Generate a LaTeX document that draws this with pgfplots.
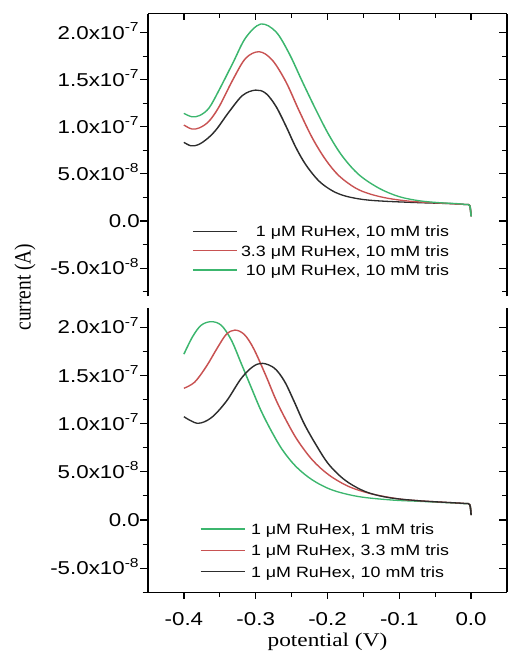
\documentclass[border=0pt]{standalone}
\usepackage{fontspec}
\setmainfont{Liberation Sans}
\newfontfamily\seriffont{Liberation Serif}
\usepackage{graphicx}
\usepackage{pgfplots}
\pgfplotsset{compat=1.18}

\definecolor{cvblack}{RGB}{45,45,45}
\definecolor{cvred}{RGB}{200,82,82}
\definecolor{cvgreen}{RGB}{60,182,110}

\newcommand\tickfont{\fontsize{9.3bp}{11bp}\selectfont}
\newcommand\legfont{\fontsize{7.45bp}{9bp}\selectfont}
\newcommand\labfont{\seriffont\fontsize{9.7bp}{11bp}\selectfont}

\pgfplotsset{
    panel/.style={
        scale only axis,
        width=149.58bp,
        xmin=-0.45, xmax=0.05,
        xtick={-0.4,-0.3,-0.2,-0.1,0},
        minor xtick={-0.35,-0.25,-0.15,-0.05},
        ytick={-5e-8,0,5e-8,1e-7,1.5e-7,2e-7},
        minor ytick={-7.5e-8,-2.5e-8,2.5e-8,7.5e-8,1.25e-7,1.75e-7},
        major tick length=3.2bp,
        minor tick length=2.2bp,
        axis line style={line width=0.55bp,-,black},
        major tick style={line width=0.55bp,black},
        minor tick style={line width=0.55bp,black},
        tick label style={font=\tickfont},
        yticklabel style={anchor=east,inner sep=0pt,text height=6.66bp,text depth=0pt},
        scaled y ticks=false,
    },
    ylabs/.style={
        yticklabels={-5.0x10\textsuperscript{-8},0.0,5.0x10\textsuperscript{-8},1.0x10\textsuperscript{-7},1.5x10\textsuperscript{-7},2.0x10\textsuperscript{-7}},
    },
    curve/.style={line width=0.65bp,smooth,tension=0.55},
    legend image code/.code={\draw[#1,line width=0.6bp] (0bp,0bp) -- (18.3bp,0bp);},
}

\begin{document}
\scalebox{1.2}[1]{%
\begin{tikzpicture}

% ---------- top panel: RuHex concentration ----------
\begin{axis}[panel, ylabs,
    at={(61.667bp,177.8bp)}, anchor=south west, height=141.32bp,
    ymin=-8e-8, ymax=2.2e-7,
    axis x line*=top, axis y line*=left,
    xtick align=inside, ytick align=outside,
    xticklabels={},
    legend cell align=right,
    legend style={draw=none,fill=none,inner sep=0pt,outer sep=0pt,
        at={(0.8386,0.2484)},anchor=north east,
        row sep=4.27bp,column sep=1.5bp,font=\legfont,
        nodes={inner sep=0pt,text height=5.33bp,text depth=0pt}},
]
\addplot[curve,cvblack] coordinates {
    (-0.400,8.35e-8) (-0.390,7.98e-8) (-0.380,8.1e-8) (-0.368,8.7e-8)
    (-0.355,9.7e-8) (-0.337,1.16e-7) (-0.318,1.335e-7) (-0.300,1.39e-7)
    (-0.286,1.356e-7) (-0.272,1.22e-7) (-0.258,1.01e-7) (-0.244,7.8e-8)
    (-0.230,5.95e-8) (-0.212,4.25e-8) (-0.193,3.2e-8) (-0.175,2.65e-8)
    (-0.150,2.28e-8) (-0.120,2.1e-8) (-0.073,1.95e-8) (-0.030,1.85e-8)
    (-0.008,1.75e-8) (-0.002,1.65e-8) (0.000,0.5e-8)
};
\addlegendentry{1 μM RuHex, 10 mM tris}
\addplot[curve,cvred] coordinates {
    (-0.400,1.019e-7) (-0.389,9.77e-8) (-0.378,9.9e-8) (-0.365,1.06e-7)
    (-0.351,1.213e-7) (-0.332,1.497e-7) (-0.314,1.727e-7) (-0.295,1.797e-7)
    (-0.277,1.709e-7) (-0.258,1.479e-7) (-0.240,1.178e-7) (-0.221,8.8e-8)
    (-0.2025,6.5e-8) (-0.184,4.8e-8) (-0.161,3.5e-8) (-0.140,2.85e-8)
    (-0.115,2.4e-8) (-0.085,2.1e-8) (-0.055,1.95e-8) (-0.030,1.85e-8)
    (-0.008,1.75e-8) (-0.002,1.65e-8) (0.000,0.5e-8)
};
\addlegendentry{3.3 μM RuHex, 10 mM tris}
\addplot[curve,cvgreen] coordinates {
    (-0.400,1.143e-7) (-0.389,1.107e-7) (-0.378,1.12e-7) (-0.365,1.2e-7)
    (-0.351,1.39e-7) (-0.332,1.674e-7) (-0.314,1.945e-7) (-0.293,2.091e-7)
    (-0.272,2.01e-7) (-0.2535,1.78e-7) (-0.235,1.479e-7) (-0.216,1.178e-7)
    (-0.198,9.13e-8) (-0.179,6.85e-8) (-0.156,4.9e-8) (-0.128,3.47e-8)
    (-0.1007,2.6e-8) (-0.073,2.16e-8) (-0.045,1.95e-8) (-0.020,1.85e-8)
    (-0.008,1.75e-8) (-0.002,1.65e-8) (0.000,0.5e-8)
};
\addlegendentry{10 μM RuHex, 10 mM tris}
\end{axis}

% right-hand axis of the top panel, ticks pointing in
\begin{axis}[panel,
    at={(61.667bp,177.8bp)}, anchor=south west, height=141.32bp,
    ymin=-8e-8, ymax=2.2e-7,
    axis x line=none, axis y line*=right,
    ytick align=inside, yticklabels={},
]
\end{axis}

% ---------- bottom panel: tris concentration ----------
\begin{axis}[panel, ylabs,
    at={(61.667bp,29.85bp)}, anchor=south west, height=142.2bp,
    ymin=-7.5e-8, ymax=2.2e-7,
    axis x line*=bottom, axis y line*=left,
    tick align=outside,
    xticklabels={-0.4,-0.3,-0.2,-0.1,0.0},
    xticklabel style={anchor=base,inner sep=0pt,yshift=-13.5bp},
    xlabel={potential (V)},
    xlabel style={font=\labfont,at={(axis description cs:0.5,0)},anchor=base,yshift=-27.2bp},
    legend cell align=left,
    legend style={draw=none,fill=none,inner sep=0pt,outer sep=0pt,
        at={(0.1446,0.2416)},anchor=north west,
        row sep=5.37bp,column sep=2.4bp,font=\legfont,
        nodes={inner sep=0pt,text height=5.33bp,text depth=0pt}},
]
\addplot[curve,cvgreen] coordinates {
    (-0.400,1.72e-7) (-0.388,1.9e-7) (-0.376,2.02e-7) (-0.362,2.057e-7)
    (-0.348,2.02e-7) (-0.334,1.867e-7) (-0.3205,1.63e-7) (-0.3067,1.383e-7)
    (-0.293,1.141e-7) (-0.279,9.34e-8) (-0.263,7.3e-8) (-0.244,5.55e-8)
    (-0.221,4.15e-8) (-0.193,3.1e-8) (-0.156,2.42e-8) (-0.110,2.07e-8)
    (-0.073,1.94e-8) (-0.040,1.82e-8) (-0.010,1.7e-8) (-0.002,1.6e-8)
    (0.000,0.5e-8)
};
\addlegendentry{1 μM RuHex, 1 mM tris}
\addplot[curve,cvred] coordinates {
    (-0.400,1.366e-7) (-0.385,1.43e-7) (-0.369,1.59e-7) (-0.353,1.79e-7)
    (-0.341,1.925e-7) (-0.329,1.97e-7) (-0.316,1.925e-7) (-0.303,1.78e-7)
    (-0.286,1.5e-7) (-0.272,1.25e-7) (-0.258,1.04e-7) (-0.242,8.3e-8)
    (-0.221,6.22e-8) (-0.198,4.67e-8) (-0.170,3.46e-8) (-0.138,2.7e-8)
    (-0.100,2.18e-8) (-0.073,2.0e-8) (-0.040,1.85e-8) (-0.010,1.72e-8)
    (-0.002,1.6e-8) (0.000,0.5e-8)
};
\addlegendentry{1 μM RuHex, 3.3 mM tris}
\addplot[curve,cvblack] coordinates {
    (-0.400,1.072e-7) (-0.381,1.003e-7) (-0.362,1.06e-7) (-0.341,1.23e-7)
    (-0.3205,1.465e-7) (-0.304,1.59e-7) (-0.2905,1.625e-7) (-0.274,1.575e-7)
    (-0.260,1.44e-7) (-0.2465,1.23e-7) (-0.2326,1.0e-7) (-0.216,7.8e-8)
    (-0.198,5.75e-8) (-0.175,4.1e-8) (-0.147,2.94e-8) (-0.1146,2.32e-8)
    (-0.073,2.0e-8) (-0.040,1.85e-8) (-0.010,1.72e-8) (-0.002,1.6e-8)
    (0.000,0.5e-8)
};
\addlegendentry{1 μM RuHex, 10 mM tris}
\end{axis}

% right-hand axis of the bottom panel
\begin{axis}[panel,
    at={(61.667bp,29.85bp)}, anchor=south west, height=142.2bp,
    ymin=-7.5e-8, ymax=2.2e-7,
    axis x line=none, axis y line*=right,
    ytick align=inside, yticklabels={},
]
\end{axis}

\node[rotate=90,font=\labfont,anchor=center,inner sep=0pt] at (10.42bp,182.5bp) {current (A)};

\pgfresetboundingbox
\path[use as bounding box] (0,0) rectangle (211.667bp,326bp);
\end{tikzpicture}%
}
\end{document}
